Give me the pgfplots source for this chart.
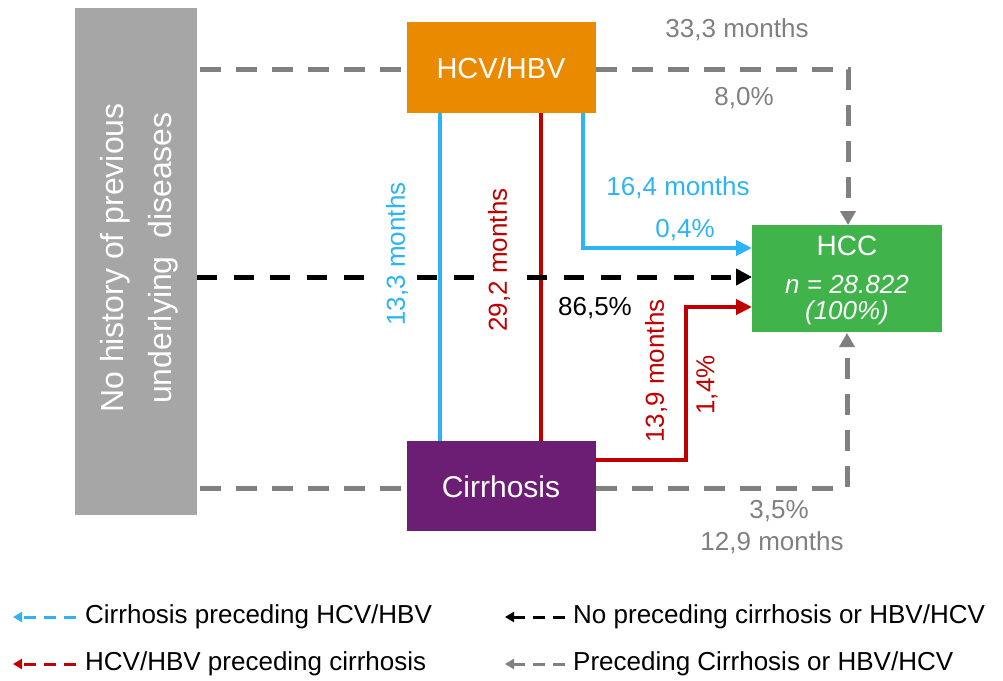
\documentclass[border=0pt]{standalone}
\usepackage{pgfplots}
\pgfplotsset{compat=1.18}
\usepackage{fontspec}
\setmainfont{Liberation Sans}
\usetikzlibrary{arrows.meta}
\definecolor{boxgray}{HTML}{A6A6A6}
\definecolor{dgray}{HTML}{808080}
\definecolor{hcvorange}{HTML}{EA8A00}
\definecolor{cirpurple}{HTML}{6B1E74}
\definecolor{hccgreen}{HTML}{40B44A}
\definecolor{lblue}{HTML}{2DB4F5}
\definecolor{dred}{HTML}{C00000}
\newcommand{\fs}[1]{\fontsize{#1}{#1}\selectfont}
\begin{document}
\begin{tikzpicture}
\begin{axis}[x=1pt,y=1pt,xmin=0,xmax=1003,ymin=0,ymax=680,y dir=reverse,
  hide axis,clip=false,scale only axis]
% frame for bounding box
\addplot[draw=none] coordinates {(0,0) (1003,680)};
% gray dashed paths
\addplot[dgray,line width=5pt,dash pattern=on 21pt off 15pt,
  -{Triangle[length=14pt,width=15pt]}] coordinates {(200,69) (848,69) (848,225)};
\addplot[dgray,line width=5pt,dash pattern=on 21pt off 15pt,
  -{Triangle[length=14pt,width=15pt]}] coordinates {(200,488) (847,488) (847,333)};
% blue lines
\addplot[lblue,line width=4pt] coordinates {(440,113) (440,441)};
\addplot[lblue,line width=4pt,line join=miter,
  -{Triangle[length=16pt,width=15pt]}] coordinates {(583,113) (583,248) (752,248)};
% red lines
\addplot[dred,line width=4pt] coordinates {(541,113) (541,441)};
\addplot[dred,line width=4pt,line join=miter,
  -{Triangle[length=16pt,width=15pt]}] coordinates {(596,460) (686,460) (686,307) (752,307)};
% black dashed
\addplot[black,line width=5pt,dash pattern=on 20pt off 16.7pt,
  -{Triangle[length=16pt,width=16pt]}] coordinates {(197,277) (752,277)};
% boxes
\addplot[fill=boxgray,draw=none] coordinates {(75,8) (197,8) (197,515) (75,515)} --cycle;
\addplot[fill=hcvorange,draw=none] coordinates {(407,22) (596,22) (596,113) (407,113)} --cycle;
\addplot[fill=cirpurple,draw=none] coordinates {(407,441) (596,441) (596,531) (407,531)} --cycle;
\addplot[fill=hccgreen,draw=none] coordinates {(752,225) (942,225) (942,332) (752,332)} --cycle;
% box texts
\node[white,rotate=90,align=center,inner sep=0pt,font=\fs{32}] at (axis cs:139,258)
  {No history of previous\\[16pt]underlying\ \ diseases};
\node[white,inner sep=0pt,font=\fs{29}] at (axis cs:501,68) {HCV/HBV};
\node[white,inner sep=0pt,font=\fs{30}] at (axis cs:501,487) {Cirrhosis};
\node[white,inner sep=0pt,font=\fs{28}] at (axis cs:847,246) {HCC};
\node[white,inner sep=0pt,font=\fs{26}\itshape] at (axis cs:847,285) {n = 28.822};
\node[white,inner sep=0pt,font=\fs{26}\itshape] at (axis cs:847,313) {(100\%)};
% annotations
\node[dgray,inner sep=0pt,font=\fs{26}] at (axis cs:737,30) {33,3 months};
\node[dgray,inner sep=0pt,font=\fs{26}] at (axis cs:744,98) {8,0\%};
\node[lblue,inner sep=0pt,font=\fs{26}] at (axis cs:678,188) {16,4 months};
\node[lblue,inner sep=0pt,font=\fs{26}] at (axis cs:685,230) {0,4\%};
\node[black,inner sep=0pt,font=\fs{26}] at (axis cs:595,308) {86,5\%};
\node[lblue,rotate=90,fill=white,inner xsep=2pt,inner ysep=6pt,font=\fs{26}] at (axis cs:397,254) {13,3 months};
\node[dred,rotate=90,fill=white,inner xsep=2pt,inner ysep=6pt,font=\fs{26}] at (axis cs:499,260) {29,2 months};
\node[dred,rotate=90,inner sep=0pt,font=\fs{26}] at (axis cs:656,371) {13,9 months};
\node[dred,rotate=90,inner sep=0pt,font=\fs{26}] at (axis cs:707,385) {1,4\%};
\node[dgray,inner sep=0pt,font=\fs{26}] at (axis cs:779,511) {3,5\%};
\node[dgray,inner sep=0pt,font=\fs{26}] at (axis cs:772,543) {12,9 months};
% legend
\addplot[lblue,line width=3pt,dash pattern=on 12pt off 8pt,
  -{Triangle[length=9pt,width=10pt]}] coordinates {(76,617) (13,617)};
\addplot[dred,line width=3pt,dash pattern=on 12pt off 8pt,
  -{Triangle[length=9pt,width=10pt]}] coordinates {(76,664) (13,664)};
\addplot[black,line width=3pt,dash pattern=on 12pt off 8pt,
  -{Triangle[length=9pt,width=10pt]}] coordinates {(565,617) (505,617)};
\addplot[dgray,line width=3pt,dash pattern=on 12pt off 8pt,
  -{Triangle[length=9pt,width=10pt]}] coordinates {(565,664) (505,664)};
\node[anchor=west,inner sep=0pt,font=\fs{26}] at (axis cs:85,617) {Cirrhosis preceding HCV/HBV};
\node[anchor=west,inner sep=0pt,font=\fs{26}] at (axis cs:85,664) {HCV/HBV preceding cirrhosis};
\node[anchor=west,inner sep=0pt,font=\fs{26}] at (axis cs:573,617) {No preceding cirrhosis or HBV/HCV};
\node[anchor=west,inner sep=0pt,font=\fs{26}] at (axis cs:573,664) {Preceding Cirrhosis or HBV/HCV};
\end{axis}
\end{tikzpicture}
\end{document}
